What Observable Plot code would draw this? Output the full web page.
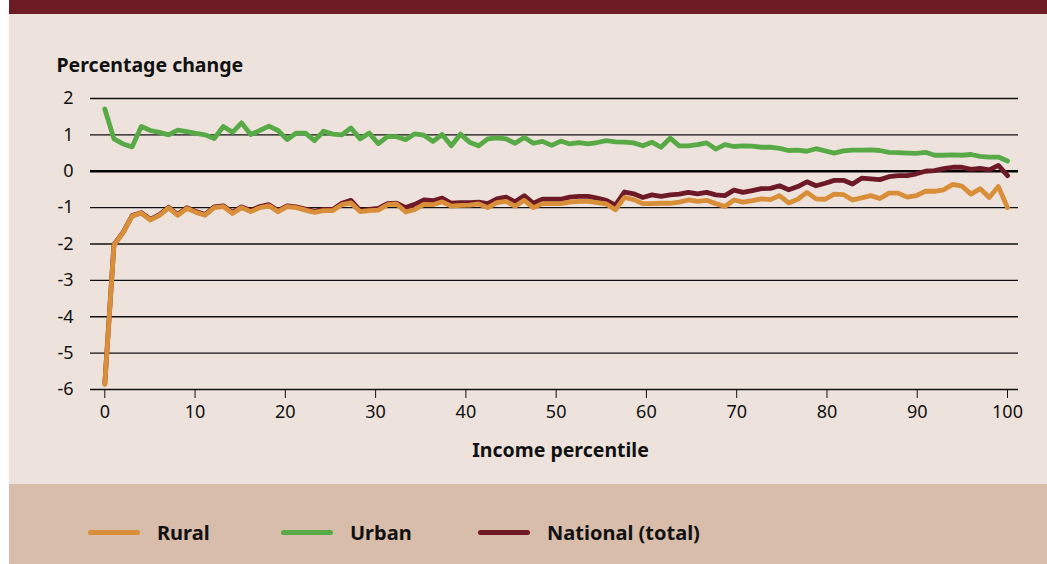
<!DOCTYPE html>
<html><head><meta charset="utf-8">
<script src="https://cdn.jsdelivr.net/npm/d3@7"></script>
<script src="https://cdn.jsdelivr.net/npm/@observablehq/plot@0.6"></script>
<style>
html,body{margin:0;padding:0;background:#ffffff;}
#wrap{position:absolute;left:9px;top:0;width:1038px;height:564px;background:#ede3dc;font-family:"Noto Sans",sans-serif;overflow:hidden;}
#topband{position:absolute;left:0;top:0;width:1038px;height:14px;background:#6d1b25;}
#chart{position:absolute;left:0;top:14px;}
#legend{position:absolute;left:0;top:484px;width:1038px;height:80px;background:#d8bdab;}
.item{position:absolute;top:8px;height:80px;display:flex;align-items:center;font-weight:700;font-size:20px;color:#111;white-space:nowrap;}
.sw{width:52px;height:5px;border-radius:3px;margin-right:17px;}
</style></head><body>
<div id="wrap"><div id="topband"></div><div id="chart"></div><div id="legend"></div></div>
<script>
// ---- data ----
const xTicks = [0, 10, 20, 30, 40, 50, 60, 70, 80, 90, 100];
const yTicks = [2, 1, 0, -1, -2, -3, -4, -5, -6];
const seriesNames = ["Rural", "Urban", "National (total)"];
const seriesColors = ["#d98e39", "#58aa47", "#6e1a26"];
const yLabel = "Percentage change";
const xLabel = "Income percentile";

const urban = [1.71,0.89,0.75,0.67,1.23,1.12,1.07,1.00,1.13,1.09,
  1.04,1.00,0.90,1.23,1.07,1.33,1.01,1.12,1.24,1.12,
  0.87,1.05,1.05,0.84,1.10,1.02,1.00,1.19,0.89,1.05,
  0.76,0.95,0.95,0.87,1.03,0.99,0.82,1.01,0.70,1.02,
  0.80,0.70,0.89,0.92,0.89,0.77,0.93,0.77,0.82,0.71,
  0.83,0.75,0.79,0.75,0.79,0.84,0.81,0.80,0.78,0.70,
  0.80,0.66,0.91,0.70,0.70,0.73,0.78,0.61,0.73,0.68,
  0.70,0.69,0.66,0.66,0.63,0.57,0.58,0.55,0.62,0.56,
  0.50,0.56,0.58,0.58,0.59,0.57,0.52,0.51,0.50,0.49,
  0.52,0.44,0.44,0.45,0.44,0.46,0.41,0.39,0.39,0.28];

const rural = [-5.86,-2.03,-1.69,-1.23,-1.15,-1.34,-1.21,-1.01,-1.21,-1.02,
  -1.13,-1.21,-1.00,-0.97,-1.16,-1.00,-1.11,-1.00,-0.95,-1.11,
  -0.97,-1.00,-1.07,-1.13,-1.08,-1.08,-0.92,-0.87,-1.11,-1.08,
  -1.07,-0.92,-0.90,-1.12,-1.05,-0.91,-0.92,-0.84,-0.96,-0.94,
  -0.93,-0.90,-1.00,-0.86,-0.83,-0.96,-0.80,-1.00,-0.89,-0.89,
  -0.89,-0.85,-0.83,-0.83,-0.86,-0.90,-1.06,-0.72,-0.78,-0.89,
  -0.89,-0.88,-0.88,-0.85,-0.79,-0.83,-0.80,-0.89,-0.97,-0.79,
  -0.85,-0.81,-0.76,-0.78,-0.67,-0.87,-0.77,-0.58,-0.76,-0.77,
  -0.63,-0.64,-0.79,-0.73,-0.67,-0.75,-0.60,-0.60,-0.71,-0.67,
  -0.55,-0.55,-0.51,-0.36,-0.41,-0.63,-0.48,-0.72,-0.42,-1.00];

const national = [-5.84,-2.02,-1.68,-1.22,-1.14,-1.32,-1.19,-0.99,-1.19,-1.00,
  -1.11,-1.19,-0.98,-0.95,-1.13,-0.98,-1.08,-0.97,-0.92,-1.08,
  -0.95,-0.98,-1.04,-1.10,-1.05,-1.05,-0.88,-0.80,-1.08,-1.05,
  -1.02,-0.89,-0.88,-1.00,-0.91,-0.79,-0.81,-0.74,-0.88,-0.86,
  -0.86,-0.85,-0.89,-0.76,-0.71,-0.84,-0.67,-0.88,-0.77,-0.77,
  -0.77,-0.71,-0.69,-0.69,-0.74,-0.80,-0.93,-0.57,-0.62,-0.72,
  -0.65,-0.69,-0.65,-0.63,-0.58,-0.62,-0.58,-0.65,-0.67,-0.52,
  -0.58,-0.53,-0.48,-0.47,-0.40,-0.51,-0.42,-0.29,-0.40,-0.33,
  -0.25,-0.25,-0.35,-0.19,-0.21,-0.23,-0.15,-0.12,-0.12,-0.07,
  0.00,0.02,0.07,0.11,0.11,0.05,0.08,0.04,0.16,-0.12];

// ---- build table (draw order: urban, national, rural) ----
const n = rural.length;
const toRows = (arr, name) => arr.map((v, i) => ({pct: i * 100 / (n - 1), value: v, series: name}));
const rows = [
  ...toRows(urban, seriesNames[1]),
  ...toRows(national, seriesNames[2]),
  ...toRows(rural, seriesNames[0])
];

const FONT = '"Noto Sans", sans-serif';
const chart = Plot.plot({
  width: 1038,
  height: 470,
  marginLeft: 81,
  marginRight: 29,
  marginTop: 84,
  marginBottom: 95,
  style: {background: "transparent", fontFamily: FONT, fontSize: "18px", color: "#111"},
  x: {domain: [0, 100], insetLeft: 14.3, insetRight: 11},
  y: {domain: [-6, 2]},
  color: {domain: seriesNames, range: seriesColors},
  marks: [
    Plot.ruleY(yTicks.filter(d => d !== 0), {stroke: "#111", strokeWidth: 1.3}),
    Plot.ruleY([0], {stroke: "#000", strokeWidth: 2.6}),
    Plot.axisY(yTicks, {tickSize: 0, tickPadding: 17, fontSize: 18, label: null, tickFormat: d => String(d)}),
    Plot.axisX(xTicks, {tickSize: 9, tickPadding: 7, fontSize: 18, label: null, stroke: "#111", tickFormat: d => String(d)}),
    Plot.line(rows, {x: "pct", y: "value", z: "series", stroke: "series", strokeWidth: 4.8, strokeLinejoin: "round", strokeLinecap: "round"}),
    Plot.text([yLabel], {frameAnchor: "top-left", text: d => d, textAnchor: "start", dx: -34, dy: -40, fontWeight: "bold", fontSize: 19.5, fill: "#111"}),
    Plot.text([xLabel], {frameAnchor: "bottom", text: d => d, textAnchor: "middle", dx: 6, dy: 67, fontWeight: "bold", fontSize: 19.5, fill: "#111"})
  ]
});
document.getElementById("chart").appendChild(chart);

// ---- legend ----
const legendLefts = [79, 272, 469];
const legend = document.getElementById("legend");
seriesNames.forEach((name, i) => {
  const item = document.createElement("div");
  item.className = "item";
  item.style.left = legendLefts[i] + "px";
  const sw = document.createElement("div");
  sw.className = "sw";
  sw.style.background = seriesColors[i];
  const label = document.createElement("span");
  label.textContent = name;
  item.appendChild(sw);
  item.appendChild(label);
  legend.appendChild(item);
});
</script>
</body></html>
